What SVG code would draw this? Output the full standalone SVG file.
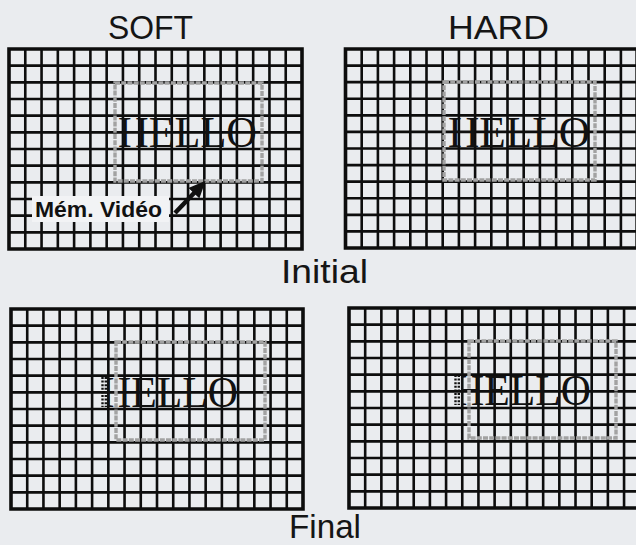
<svg xmlns="http://www.w3.org/2000/svg" width="636" height="545" viewBox="0 0 636 545">
  <style>
    .bg { fill: #eaecef; }
    .gl { fill: none; stroke: #0d0d0d; stroke-width: 2.6; vector-effect: non-scaling-stroke; }
    .gb { fill: none; stroke: #0d0d0d; stroke-width: 3.6; vector-effect: non-scaling-stroke; }
    .frame { fill: none; stroke: #a2a2a2; stroke-width: 3.4; stroke-dasharray: 5 1.2; }
    .title { font-family: "Liberation Sans", "DejaVu Sans", sans-serif; font-size: 33px; fill: #151515; }
    .hello { font-family: "Liberation Serif", "DejaVu Serif", serif; font-size: 45px; fill: #111; }
    .label { font-family: "Liberation Sans", Arial, sans-serif; font-size: 22px; font-weight: bold; fill: #111; }
    .dots { stroke: #111; stroke-width: 2.4; stroke-dasharray: 2 1.6; fill: none; }
  </style>
  <defs>
    <g id="grid">
      <path class="gl" d="M1 0V12M2 0V12M3 0V12M4 0V12M5 0V12M6 0V12M7 0V12M8 0V12M9 0V12M10 0V12M11 0V12M12 0V12M13 0V12M14 0V12M15 0V12M16 0V12M17 0V12M0 1H18M0 2H18M0 3H18M0 4H18M0 5H18M0 6H18M0 7H18M0 8H18M0 9H18M0 10H18M0 11H18"/>
      <rect class="gb" x="0" y="0" width="18" height="12"/>
    </g>
    <clipPath id="clipFS"><rect x="108" y="340" width="200" height="100"/></clipPath>
    <clipPath id="clipFH"><rect x="461" y="340" width="200" height="100"/></clipPath>
    <marker id="ah" markerUnits="userSpaceOnUse" markerWidth="17" markerHeight="15" refX="3" refY="7.5" orient="auto">
      <path d="M0 0L17 7.5L0 15z" fill="#111"/>
    </marker>
  </defs>

  <rect class="bg" x="0" y="0" width="636" height="545"/>

  <g id="title-soft">
    <text class="title" x="108" y="39" textLength="85" lengthAdjust="spacingAndGlyphs">SOFT</text>
  </g>
  <g id="title-hard">
    <text class="title" x="448" y="39" textLength="101" lengthAdjust="spacingAndGlyphs">HARD</text>
  </g>

  <g id="soft-initial">
    <use href="#grid" transform="translate(9,49) scale(16.278,16.667)"/>
    <text class="hello" x="118" y="147" textLength="139" lengthAdjust="spacingAndGlyphs">HELLO</text>
    <rect class="frame" x="115" y="83" width="147" height="98"/>
  </g>

  <g id="hard-initial">
    <use href="#grid" transform="translate(345.5,49) scale(16.2,16.583)"/>
    <text class="hello" x="448" y="147" textLength="142" lengthAdjust="spacingAndGlyphs">HELLO</text>
    <rect class="frame" x="444" y="82" width="151" height="98"/>
  </g>

  <g id="label-video">
    <rect fill="#f2f3f5" x="32" y="196" width="137" height="26"/>
    <text class="label" x="35" y="216.5" textLength="127" lengthAdjust="spacingAndGlyphs">Mém. Vidéo</text>
  </g>

  <g id="label-initial">
    <text class="title" x="281" y="283" font-size="32" textLength="87" lengthAdjust="spacingAndGlyphs">Initial</text>
  </g>

  <g id="soft-final">
    <use href="#grid" transform="translate(11,309) scale(16.222,16.667)"/>
    <text class="hello" x="101" y="407" textLength="137" lengthAdjust="spacingAndGlyphs" clip-path="url(#clipFS)">HELLO</text>
    <path class="dots" d="M102.5 377V407M105.8 377V407"/>
    <rect class="frame" x="116" y="342" width="149" height="98"/>
  </g>

  <g id="hard-final">
    <use href="#grid" transform="translate(349,308) scale(16.18,16.667)"/>
    <text class="hello" x="454" y="405" textLength="137" lengthAdjust="spacingAndGlyphs" clip-path="url(#clipFH)">HELLO</text>
    <path class="dots" d="M455.5 375V405M458.8 375V405"/>
    <rect class="frame" x="469" y="341" width="147" height="97"/>
  </g>

  <g id="label-final">
    <text class="title" x="289" y="538" font-size="31" textLength="72" lengthAdjust="spacingAndGlyphs">Final</text>
  </g>

  <g id="connectors">
    <line x1="175" y1="213" x2="196" y2="191" stroke="#111" stroke-width="4.5" marker-end="url(#ah)"/>
  </g>
</svg>
